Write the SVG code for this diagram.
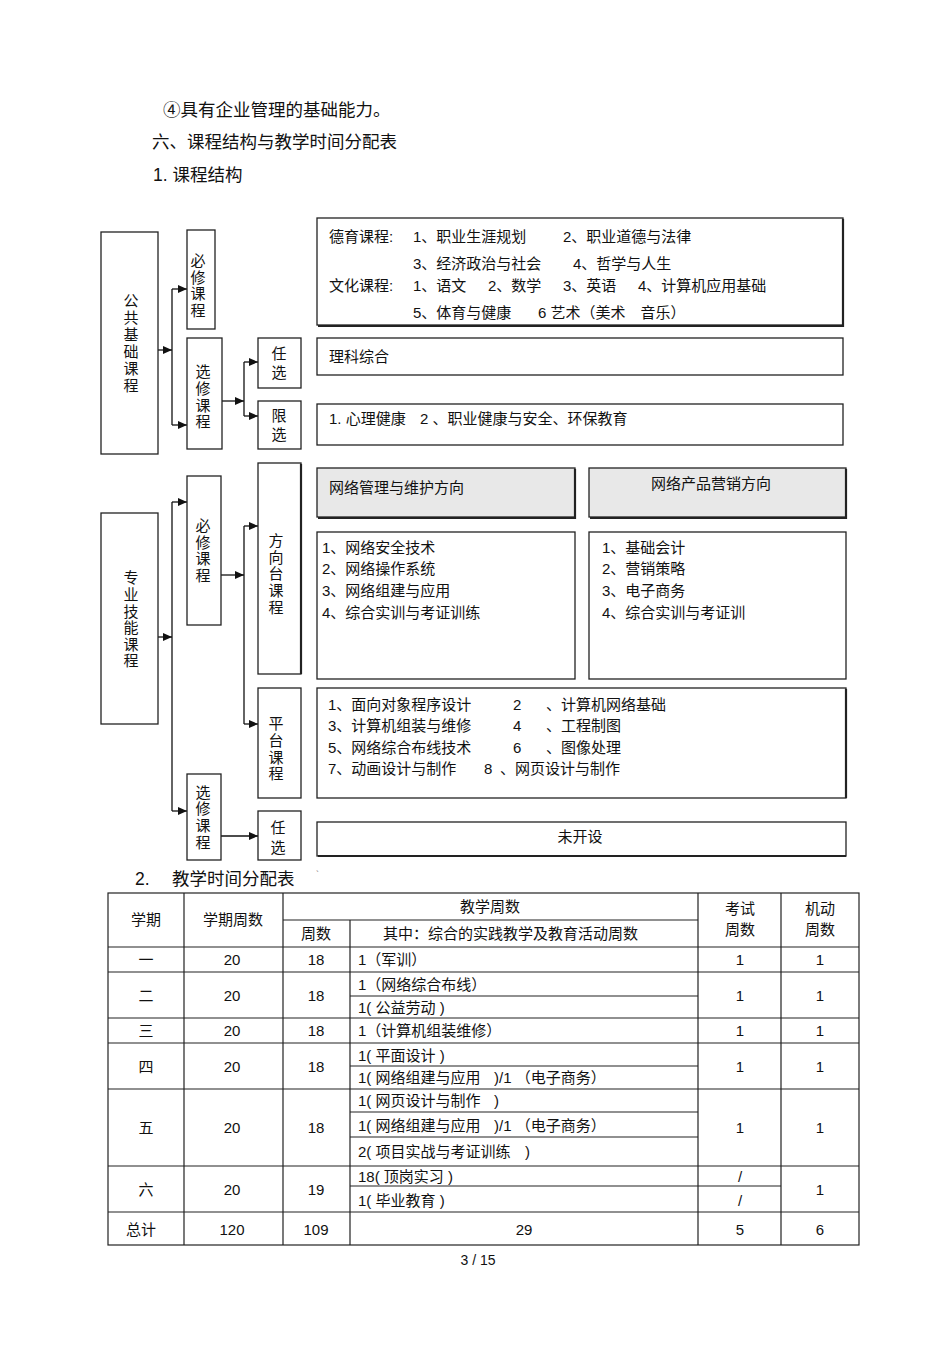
<svg xmlns="http://www.w3.org/2000/svg" width="950" height="1345" viewBox="0 0 950 1345">
<style>
text{font-family:"Liberation Sans","Noto Sans CJK SC",sans-serif;fill:#111;dominant-baseline:central}
.t{font-size:15px}
.h{font-size:17.5px}
.c{text-anchor:middle}
.box{fill:#fff;stroke:#222;stroke-width:1.3}
.gray{fill:#e8e8e8;stroke:#222;stroke-width:1.3}
.sh{fill:none;stroke:#222;stroke-width:2.2}
.ln{fill:none;stroke:#111;stroke-width:1.3}
.tb{fill:none;stroke:#222;stroke-width:1.2}
</style>
<defs>
<marker id="ar" markerUnits="userSpaceOnUse" markerWidth="9" markerHeight="8" refX="9" refY="4" orient="auto">
<path d="M0,0 L9,4 L0,8 z" fill="#111"/>
</marker>
</defs>
<rect width="950" height="1345" fill="#fff"/>

<g id="headings">
<text class="h" x="163" y="110">④具有企业管理的基础能力。</text>
<text class="h" x="152" y="142">六、课程结构与教学时间分配表</text>
<text class="h" x="153" y="175">1. 课程结构</text>
</g>

<g id="connectors">
<path class="ln" d="M158,350 H172" marker-end="url(#ar)"/>
<path class="ln" d="M172,289 V425"/>
<path class="ln" d="M172,289 H187" marker-end="url(#ar)"/>
<path class="ln" d="M172,425 H187" marker-end="url(#ar)"/>
<path class="ln" d="M222,401 H244" marker-end="url(#ar)"/>
<path class="ln" d="M244,362 V416"/>
<path class="ln" d="M244,362 H258" marker-end="url(#ar)"/>
<path class="ln" d="M244,416 H258" marker-end="url(#ar)"/>
<path class="ln" d="M158,637 H172" marker-end="url(#ar)"/>
<path class="ln" d="M172,502 V811"/>
<path class="ln" d="M172,502 H187" marker-end="url(#ar)"/>
<path class="ln" d="M172,811 H187" marker-end="url(#ar)"/>
<path class="ln" d="M221,575 H244" marker-end="url(#ar)"/>
<path class="ln" d="M244,526 V724"/>
<path class="ln" d="M244,526 H258" marker-end="url(#ar)"/>
<path class="ln" d="M244,724 H258" marker-end="url(#ar)"/>
<path class="ln" d="M221,836 H258" marker-end="url(#ar)"/>
</g>

<g id="n-gonggong">
<rect class="box" x="101" y="232" width="57" height="222"/>
<text class="t c" x="131" y="300">公</text><text class="t c" x="131" y="317">共</text><text class="t c" x="131" y="334">基</text><text class="t c" x="131" y="351">础</text><text class="t c" x="131" y="368">课</text><text class="t c" x="131" y="385">程</text>
</g>
<g id="n-bixiu1">
<rect class="box" x="187" y="230" width="28" height="99"/>
<text class="t c" x="198" y="260">必</text><text class="t c" x="198" y="277">修</text><text class="t c" x="198" y="293">课</text><text class="t c" x="198" y="310">程</text>
</g>
<g id="n-xuanxiu1">
<rect class="box" x="187" y="338" width="35" height="111"/>
<text class="t c" x="203" y="371">选</text><text class="t c" x="203" y="388">修</text><text class="t c" x="203" y="405">课</text><text class="t c" x="203" y="421">程</text>
</g>
<g id="n-renxuan1">
<rect class="box" x="258" y="338" width="43" height="50"/>
<text class="t c" x="279" y="353">任</text><text class="t c" x="279" y="372">选</text>
</g>
<g id="n-xianxuan">
<rect class="box" x="258" y="401" width="43" height="48"/>
<text class="t c" x="279" y="415">限</text><text class="t c" x="279" y="434">选</text>
</g>
<g id="n-deyu">
<rect class="box" x="317" y="218" width="526" height="107"/>
<path class="sh" d="M843,219 V326 H318"/>
<text class="t" x="329" y="236">德育课程:</text>
<text class="t" x="413" y="236">1、职业生涯规划</text>
<text class="t" x="563" y="236">2、职业道德与法律</text>
<text class="t" x="413" y="263">3、经济政治与社会</text>
<text class="t" x="573" y="263">4、哲学与人生</text>
<text class="t" x="329" y="285">文化课程:</text>
<text class="t" x="413" y="285">1、语文</text>
<text class="t" x="488" y="285">2、数学</text>
<text class="t" x="563" y="285">3、英语</text>
<text class="t" x="638" y="285">4、计算机应用基础</text>
<text class="t" x="413" y="312">5、体育与健康</text>
<text class="t" x="538" y="312">6 艺术（美术　音乐）</text>
</g>
<g id="n-like">
<rect class="box" x="317" y="338" width="526" height="37"/>
<text class="t" x="329" y="356">理科综合</text>
</g>
<g id="n-xinli">
<rect class="box" x="317" y="404" width="526" height="41"/>
<text class="t" x="329" y="418">1. 心理健康</text>
<text class="t" x="420" y="418">2 、职业健康与安全、环保教育</text>
</g>

<g id="n-zhuanye">
<rect class="box" x="101" y="513" width="57" height="211"/>
<text class="t c" x="131" y="577">专</text><text class="t c" x="131" y="594">业</text><text class="t c" x="131" y="611">技</text><text class="t c" x="131" y="627">能</text><text class="t c" x="131" y="644">课</text><text class="t c" x="131" y="660">程</text>
</g>
<g id="n-bixiu2">
<rect class="box" x="187" y="476" width="34" height="149"/>
<text class="t c" x="203" y="525">必</text><text class="t c" x="203" y="542">修</text><text class="t c" x="203" y="558">课</text><text class="t c" x="203" y="575">程</text>
</g>
<g id="n-xuanxiu2">
<rect class="box" x="187" y="774" width="34" height="86"/>
<text class="t c" x="203" y="792">选</text><text class="t c" x="203" y="808">修</text><text class="t c" x="203" y="825">课</text><text class="t c" x="203" y="842">程</text>
</g>
<g id="n-fangxiang">
<rect class="box" x="258" y="463" width="43" height="211"/>
<path class="sh" d="M301,464 V674"/>
<text class="t c" x="276" y="540">方</text><text class="t c" x="276" y="557">向</text><text class="t c" x="276" y="573">台</text><text class="t c" x="276" y="590">课</text><text class="t c" x="276" y="607">程</text>
</g>
<g id="n-pingtai">
<rect class="box" x="258" y="688" width="43" height="110"/>
<text class="t c" x="276" y="723">平</text><text class="t c" x="276" y="740">台</text><text class="t c" x="276" y="757">课</text><text class="t c" x="276" y="773">程</text>
</g>
<g id="n-renxuan2">
<rect class="box" x="258" y="811" width="43" height="49"/>
<text class="t c" x="278" y="827">任</text><text class="t c" x="278" y="847">选</text>
</g>
<g id="n-wlgl">
<rect class="gray" x="317" y="468" width="258" height="49"/>
<path class="sh" d="M575,469 V518 H318"/>
<text class="t" x="329" y="487">网络管理与维护方向</text>
</g>
<g id="n-wlyx">
<rect class="gray" x="589" y="468" width="257" height="49"/>
<path class="sh" d="M846,469 V518 H590"/>
<text class="t c" x="711" y="483">网络产品营销方向</text>
</g>
<g id="n-wlgl-list">
<rect class="box" x="317" y="532" width="258" height="147"/>
<text class="t" x="322" y="547">1、网络安全技术</text>
<text class="t" x="322" y="568">2、网络操作系统</text>
<text class="t" x="322" y="590">3、网络组建与应用</text>
<text class="t" x="322" y="612">4、综合实训与考证训练</text>
</g>
<g id="n-wlyx-list">
<rect class="box" x="589" y="532" width="257" height="147"/>
<text class="t" x="602" y="547">1、基础会计</text>
<text class="t" x="602" y="568">2、营销策略</text>
<text class="t" x="602" y="590">3、电子商务</text>
<text class="t" x="602" y="612">4、综合实训与考证训</text>
</g>
<g id="n-pingtai-list">
<rect class="box" x="317" y="688" width="529" height="110"/>
<path class="sh" d="M846,689 V798"/>
<text class="t" x="328" y="704">1、面向对象程序设计</text>
<text class="t" x="513" y="704">2</text>
<text class="t" x="546" y="704">、计算机网络基础</text>
<text class="t" x="328" y="725">3、计算机组装与维修</text>
<text class="t" x="513" y="725">4</text>
<text class="t" x="546" y="725">、工程制图</text>
<text class="t" x="328" y="747">5、网络综合布线技术</text>
<text class="t" x="513" y="747">6</text>
<text class="t" x="546" y="747">、图像处理</text>
<text class="t" x="328" y="768">7、动画设计与制作</text>
<text class="t" x="484" y="768">8</text>
<text class="t" x="500" y="768">、网页设计与制作</text>
</g>
<g id="n-weikaishe">
<rect class="box" x="317" y="822" width="529" height="34"/>
<path class="sh" d="M318,856 H846"/>
<text class="t c" x="580" y="836">未开设</text>
</g>

<g id="table">
<text class="h" x="135" y="879">2.</text>
<text class="h" x="172" y="879">教学时间分配表</text>
<text x="316" y="874" style="font-size:9px;fill:#777">`</text>
<rect class="tb" x="108" y="893" width="751" height="352"/>
<path class="tb" d="M184,893 V1245 M283,893 V1245 M350,920 V1245 M698,893 V1245 M781,893 V1245"/>
<path class="tb" d="M283,920 H698 M108,947 H859 M108,972 H859 M350,996 H698 M108,1018 H859 M108,1043 H859 M350,1066 H698 M108,1089 H859 M350,1112 H698 M350,1137 H698 M108,1166 H859 M350,1186 H781 M108,1212 H859"/>
<text class="t c" x="146" y="919">学期</text>
<text class="t c" x="233" y="919">学期周数</text>
<text class="t c" x="490" y="906">教学周数</text>
<text class="t c" x="316" y="933">周数</text>
<text class="t" x="383" y="933">其中：综合的实践教学及教育活动周数</text>
<text class="t c" x="740" y="908">考试</text>
<text class="t c" x="740" y="929">周数</text>
<text class="t c" x="820" y="908">机动</text>
<text class="t c" x="820" y="929">周数</text>

<text class="t c" x="146" y="959">一</text><text class="t c" x="232" y="959">20</text><text class="t c" x="316" y="959">18</text>
<text class="t" x="358" y="959">1（军训）</text><text class="t c" x="740" y="959">1</text><text class="t c" x="820" y="959">1</text>

<text class="t c" x="146" y="995">二</text><text class="t c" x="232" y="995">20</text><text class="t c" x="316" y="995">18</text>
<text class="t" x="358" y="984">1（网络综合布线）</text><text class="t" x="358" y="1007">1( 公益劳动 )</text>
<text class="t c" x="740" y="995">1</text><text class="t c" x="820" y="995">1</text>

<text class="t c" x="146" y="1030">三</text><text class="t c" x="232" y="1030">20</text><text class="t c" x="316" y="1030">18</text>
<text class="t" x="358" y="1030">1（计算机组装维修）</text><text class="t c" x="740" y="1030">1</text><text class="t c" x="820" y="1030">1</text>

<text class="t c" x="146" y="1066">四</text><text class="t c" x="232" y="1066">20</text><text class="t c" x="316" y="1066">18</text>
<text class="t" x="358" y="1055">1( 平面设计 )</text>
<text class="t" x="358" y="1077">1( 网络组建与应用 </text><text class="t" x="494" y="1077">)/1 （电子商务）</text>
<text class="t c" x="740" y="1066">1</text><text class="t c" x="820" y="1066">1</text>

<text class="t c" x="146" y="1127">五</text><text class="t c" x="232" y="1127">20</text><text class="t c" x="316" y="1127">18</text>
<text class="t" x="358" y="1100">1( 网页设计与制作 </text><text class="t" x="494" y="1100">)</text>
<text class="t" x="358" y="1125">1( 网络组建与应用 </text><text class="t" x="494" y="1125">)/1 （电子商务）</text>
<text class="t" x="358" y="1151">2( 项目实战与考证训练 </text><text class="t" x="525" y="1151">)</text>
<text class="t c" x="740" y="1127">1</text><text class="t c" x="820" y="1127">1</text>

<text class="t c" x="146" y="1189">六</text><text class="t c" x="232" y="1189">20</text><text class="t c" x="316" y="1189">19</text>
<text class="t" x="358" y="1176">18( 顶岗实习 )</text><text class="t c" x="740" y="1176">/</text>
<text class="t" x="358" y="1200">1( 毕业教育 )</text><text class="t c" x="740" y="1200">/</text>
<text class="t c" x="820" y="1189">1</text>

<text class="t c" x="141" y="1229">总计</text><text class="t c" x="232" y="1229">120</text><text class="t c" x="316" y="1229">109</text>
<text class="t c" x="524" y="1229">29</text><text class="t c" x="740" y="1229">5</text><text class="t c" x="820" y="1229">6</text>
</g>
<text class="t c" x="478" y="1260" style="font-size:14px">3 / 15</text>
</svg>
